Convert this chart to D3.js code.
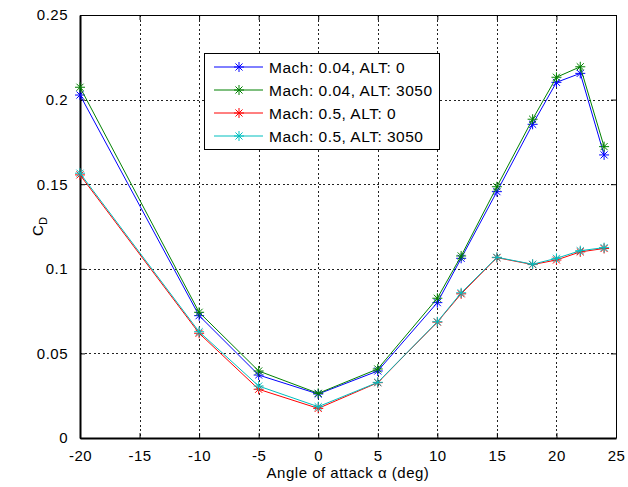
<!DOCTYPE html>
<html>
<head>
<meta charset="utf-8">
<script src="https://cdn.jsdelivr.net/npm/d3@7"></script>
<style>
  body { margin: 0; background: #fff; }
  svg { display: block; font-family: Arial, "Liberation Sans", Helvetica, sans-serif; }
</style>
</head>
<body>
<svg width="628" height="487"></svg>
<script>
// angle of attack (deg)
const alpha = [-20, -10, -5, 0, 5, 10, 12, 15, 18, 20, 22, 24]

const cdM004Alt0 = [0.2027, 0.0723, 0.0372, 0.0260, 0.0396, 0.0800, 0.1062, 0.1456, 0.1854, 0.2102, 0.2155, 0.1673]
const cdM004Alt3050 = [0.2073, 0.0743, 0.0396, 0.0264, 0.0408, 0.0826, 0.1076, 0.1485, 0.1884, 0.2132, 0.2194, 0.1722]
const cdM05Alt0 = [0.1555, 0.0619, 0.0288, 0.0175, 0.0327, 0.0685, 0.0852, 0.1066, 0.1025, 0.1052, 0.1100, 0.1120]
const cdM05Alt3050 = [0.1565, 0.0628, 0.0307, 0.0185, 0.0329, 0.0687, 0.0858, 0.1068, 0.1027, 0.1062, 0.1107, 0.1125]

const seriesNames = ['Mach: 0.04, ALT: 0', 'Mach: 0.04, ALT: 3050', 'Mach: 0.5, ALT: 0', 'Mach: 0.5, ALT: 3050']
const seriesColors = ['#0000ff', '#008000', '#ff0000', '#00bfbf']
const seriesValues = [cdM004Alt0, cdM004Alt3050, cdM05Alt0, cdM05Alt3050]

const xTicks = [-20, -15, -10, -5, 0, 5, 10, 15, 20, 25]
const yTicks = [0, 0.05, 0.1, 0.15, 0.2, 0.25]

const svg = d3.select('svg')
const box = { left: 80, top: 15, right: 616, bottom: 438 }

const x = d3.scaleLinear().domain([-20, 25]).range([box.left, box.right])
const y = d3.scaleLinear().domain([0, 0.25]).range([box.bottom, box.top])

const fontSize = '15px'
const spacing = '0.5px'

// grid
const grid = svg.append('g').attr('stroke', '#222').attr('stroke-width', 1)
  .attr('stroke-dasharray', '2,2.5').attr('shape-rendering', 'crispEdges')
grid.selectAll('line.gx').data(xTicks.slice(1, -1)).join('line')
  .attr('x1', d => Math.round(x(d)) + 0.5).attr('x2', d => Math.round(x(d)) + 0.5)
  .attr('y1', box.top).attr('y2', box.bottom)
grid.selectAll('line.gy').data(yTicks.slice(1, -1)).join('line')
  .attr('class', 'gy')
  .attr('y1', d => Math.round(y(d)) + 0.5).attr('y2', d => Math.round(y(d)) + 0.5)
  .attr('x1', box.left).attr('x2', box.right)

// axes (MATLAB style: inward ticks on all sides)
const fmt = d => String(+d.toFixed(2))
svg.append('g').attr('transform', `translate(0,${box.bottom})`)
  .call(d3.axisBottom(x).tickValues(xTicks).tickSizeInner(-5).tickSizeOuter(0).tickPadding(12).tickFormat(fmt))
  .call(g => g.select('.domain').attr('stroke-width', 2))
svg.append('g').attr('transform', `translate(0,${box.top})`)
  .call(d3.axisTop(x).tickValues(xTicks).tickSizeInner(-5).tickSizeOuter(0).tickFormat(''))
svg.append('g').attr('transform', `translate(${box.left},0)`)
  .call(d3.axisLeft(y).tickValues(yTicks).tickSizeInner(-5).tickSizeOuter(0).tickPadding(12).tickFormat(fmt))
  .call(g => g.select('.domain').attr('stroke-width', 2))
svg.append('g').attr('transform', `translate(${box.right},0)`)
  .call(d3.axisRight(y).tickValues(yTicks).tickSizeInner(-5).tickSizeOuter(0).tickFormat(''))

svg.selectAll('.tick text').attr('font-size', fontSize).attr('font-family', null)
  .attr('letter-spacing', spacing).attr('fill', '#000')
svg.selectAll('.domain, .tick line').attr('stroke', '#000')

// axis labels
svg.append('text')
  .attr('x', (box.left + box.right) / 2).attr('y', 478)
  .attr('text-anchor', 'middle').attr('font-size', fontSize).attr('letter-spacing', spacing)
  .text('Angle of attack α (deg)')

const yl = svg.append('text')
  .attr('transform', `translate(43,${(box.top + box.bottom) / 2}) rotate(-90)`)
  .attr('text-anchor', 'middle').attr('font-size', fontSize)
yl.append('tspan').text('C')
yl.append('tspan').attr('font-size', '11px').attr('dy', 4).text('D')

// asterisk marker
const star = (sel, r) => {
  const d = []
  for (let k = 0; k < 4; k++) {
    const a = k * Math.PI / 4
    d.push(`M${-r * Math.cos(a)},${-r * Math.sin(a)}L${r * Math.cos(a)},${r * Math.sin(a)}`)
  }
  sel.attr('d', d.join(''))
}

const line = d3.line().x((d, i) => x(alpha[i])).y(d => y(d))

seriesValues.forEach((vals, si) => {
  const g = svg.append('g').attr('stroke', seriesColors[si]).attr('fill', 'none')
  g.append('path').attr('d', line(vals)).attr('stroke-width', 1)
  g.selectAll('path.m').data(vals).join('path').attr('class', 'm')
    .attr('transform', (d, i) => `translate(${x(alpha[i])},${y(d)})`)
    .attr('stroke-width', 1)
    .call(star, 5)
})

// legend
const leg = svg.append('g')
leg.append('rect').attr('x', 204.5).attr('y', 53.5).attr('width', 235).attr('height', 96)
  .attr('fill', '#fff').attr('stroke', '#000')
seriesNames.forEach((name, i) => {
  const ly = 67 + i * 23
  const row = leg.append('g').attr('transform', `translate(0,${ly})`)
  row.append('line').attr('x1', 214).attr('x2', 263).attr('stroke', seriesColors[i])
  row.append('path').attr('transform', 'translate(239,0)').attr('stroke', seriesColors[i]).call(star, 5)
  row.append('text').attr('x', 269).attr('dy', '0.36em').attr('font-size', '15.5px')
    .attr('letter-spacing', '0.5px').text(name)
})
</script>
</body>
</html>
